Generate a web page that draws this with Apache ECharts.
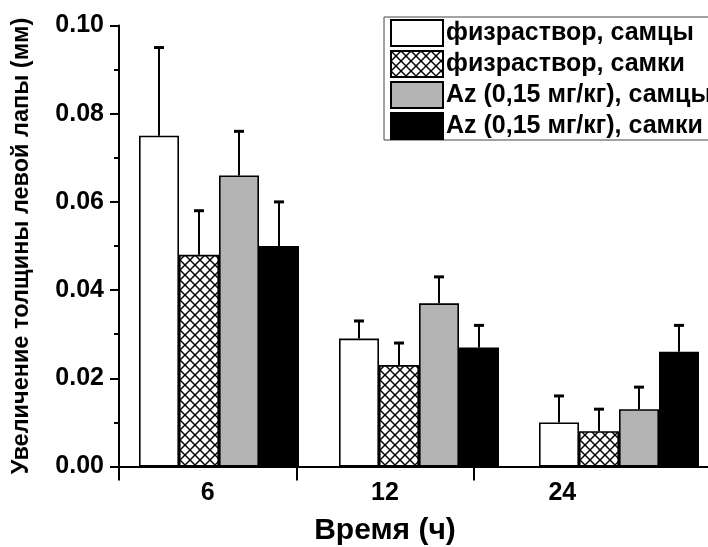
<!DOCTYPE html>
<html>
<head>
<meta charset="utf-8">
<script src="https://cdn.jsdelivr.net/npm/echarts@6/dist/echarts.min.js"></script>
<style>
  html, body { margin: 0; padding: 0; background: #fff; }
  #chart { width: 708px; height: 547px; }
</style>
</head>
<body>
<div id="chart"></div>
<script>
// Time points (hours) and group names
const timeLabels = ['6', '12', '24'];
const seriesNames = [
  'физраствор, самцы',
  'физраствор, самки',
  'Az (0,15 мг/кг), самцы',
  'Az (0,15 мг/кг), самки'
];

// Mean increase of left paw thickness (mm) and upper error (mm)
const salineMale = [0.075, 0.029, 0.010];
const salineMaleErr = [0.020, 0.004, 0.006];
const salineFemale = [0.048, 0.023, 0.008];
const salineFemaleErr = [0.010, 0.005, 0.005];
const azMale = [0.066, 0.037, 0.013];
const azMaleErr = [0.010, 0.006, 0.005];
const azFemale = [0.050, 0.027, 0.026];
const azFemaleErr = [0.010, 0.005, 0.006];

const FONT = '"Liberation Sans", Arial, sans-serif';

// Cross-hatch tile for the second group
function crossHatch() {
  const c = document.createElement('canvas');
  c.width = 10; c.height = 10;
  const g = c.getContext('2d');
  g.fillStyle = '#fff';
  g.fillRect(0, 0, 10, 10);
  g.strokeStyle = '#000';
  g.lineWidth = 1.4;
  for (const d of [-10, 0, 10]) {
    g.beginPath(); g.moveTo(d - 1, -1); g.lineTo(d + 11, 11); g.stroke();
    g.beginPath(); g.moveTo(d + 11, -1); g.lineTo(d - 1, 11); g.stroke();
  }
  return c;
}

const fills = ['#ffffff', { image: crossHatch(), repeat: 'repeat' }, '#b4b4b4', '#000000'];
const means = [salineMale, salineFemale, azMale, azFemale];
const errs = [salineMaleErr, salineFemaleErr, azMaleErr, azFemaleErr];
const BAR_SHARE = 0.8; // share of a category band taken by bars (barCategoryGap 20%)

const barSeries = means.map((vals, k) => ({
  name: seriesNames[k],
  type: 'bar',
  xAxisIndex: 0,
  yAxisIndex: 0,
  data: vals,
  barGap: '0%',
  barCategoryGap: '20%',
  itemStyle: { color: fills[k], borderColor: '#000', borderWidth: 1.6 },
  emphasis: { disabled: true }
}));

// Upper error whiskers with caps
const errorSeries = means.map((vals, k) => ({
  type: 'custom',
  xAxisIndex: 0,
  yAxisIndex: 0,
  z: 5,
  silent: true,
  data: vals.map((v, i) => [i, v, v + errs[k][i]]),
  renderItem(params, api) {
    const band = api.size([1, 0])[0];
    const bw = band * BAR_SHARE / means.length;
    const x = api.coord([api.value(0), 0])[0] + (k - (means.length - 1) / 2) * bw;
    const yb = api.coord([api.value(0), api.value(1)])[1];
    const yt = api.coord([api.value(0), api.value(2)])[1];
    return {
      type: 'group',
      children: [
        { type: 'line', shape: { x1: x, y1: yb, x2: x, y2: yt }, style: { stroke: '#000', lineWidth: 2 } },
        { type: 'line', shape: { x1: x - 5, y1: yt, x2: x + 5, y2: yt }, style: { stroke: '#000', lineWidth: 3 } }
      ]
    };
  }
}));

const chart = echarts.init(document.getElementById('chart'), null, { renderer: 'canvas' });
chart.setOption({
  animation: false,
  backgroundColor: '#fff',
  grid: [
    { left: 119, top: 25.5, width: 600, height: 441, outerBoundsMode: 'none' },
    { left: 119, top: 25.5, width: 532, height: 441, outerBoundsMode: 'none' }
  ],
  legend: {
    data: seriesNames,
    orient: 'vertical',
    left: 384,
    top: 17,
    itemWidth: 52,
    itemHeight: 26,
    itemGap: 3,
    padding: [2, 60, 0, 6],
    backgroundColor: '#fff',
    borderColor: '#444',
    borderWidth: 1,
    selectedMode: false,
    icon: 'rect',
    textStyle: { fontFamily: FONT, fontWeight: 'bold', fontSize: 25, lineHeight: 26, color: '#000', padding: [0, 0, 0, -2] }
  },
  xAxis: [
    {
      type: 'category',
      gridIndex: 0,
      data: timeLabels,
      axisLine: { show: true, lineStyle: { color: '#000', width: 2 } },
      axisTick: { show: false },
      axisLabel: { show: false },
      splitLine: { show: false }
    },
    {
      type: 'value',
      gridIndex: 1,
      min: 0,
      max: timeLabels.length,
      axisLine: { show: false },
      axisTick: { show: true, customValues: [0, 1, 2], length: 14, lineStyle: { color: '#000', width: 2 } },
      axisLabel: {
        customValues: timeLabels.map((_, i) => i + 0.5),
        formatter: v => timeLabels[Math.floor(v)],
        fontFamily: FONT, fontWeight: 'bold', fontSize: 25, color: '#000', margin: 14
      },
      splitLine: { show: false },
      name: 'Время (ч)',
      nameLocation: 'middle',
      nameGap: 49,
      nameTextStyle: { fontFamily: FONT, fontWeight: 'bold', fontSize: 30, color: '#000' }
    }
  ],
  yAxis: [
    {
      type: 'value',
      gridIndex: 0,
      min: 0,
      max: 0.1,
      interval: 0.02,
      axisLine: { show: true, lineStyle: { color: '#000', width: 2 } },
      axisTick: { show: true, inside: false, length: 9, lineStyle: { color: '#000', width: 2 } },
      minorTick: { show: true, splitNumber: 2, length: 5, lineStyle: { color: '#000', width: 2 } },
      splitLine: { show: false },
      axisLabel: {
        formatter: v => v.toFixed(2),
        fontFamily: FONT, fontWeight: 'bold', fontSize: 25, color: '#000', margin: 15
      },
      name: 'Увеличение толщины левой лапы (мм)',
      nameLocation: 'middle',
      nameGap: 85,
      nameTextStyle: { fontFamily: FONT, fontWeight: 'bold', fontSize: 23.5, color: '#000' }
    },
    { type: 'value', gridIndex: 1, min: 0, max: 0.1, show: false }
  ],
  series: [...barSeries, ...errorSeries]
});
</script>
</body>
</html>
